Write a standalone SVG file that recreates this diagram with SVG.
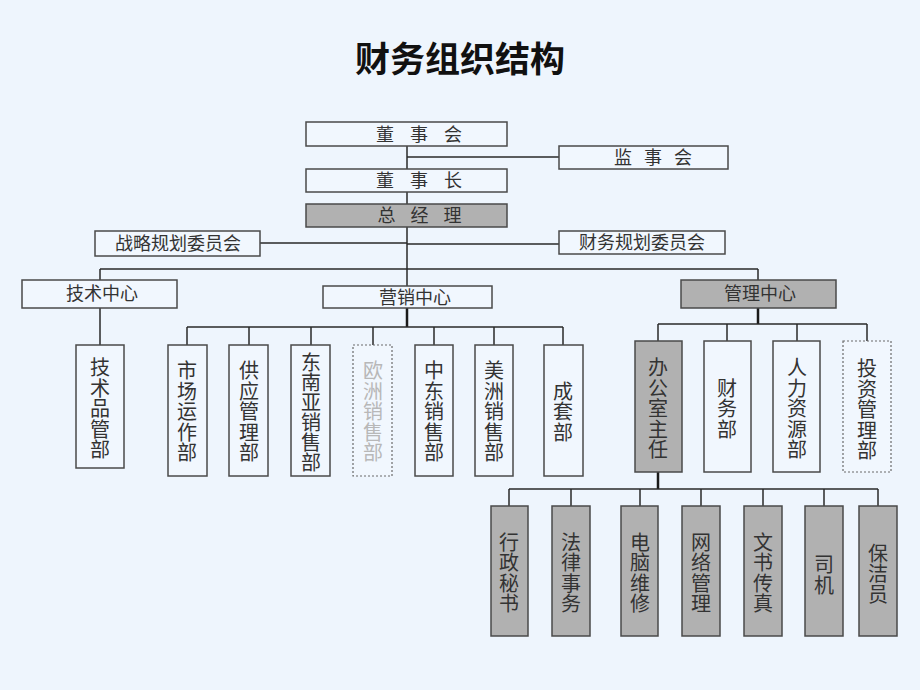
<svg xmlns="http://www.w3.org/2000/svg" width="920" height="690" viewBox="0 0 920 690">
<style>
.bx{fill:#F1F7FE;stroke:#4a4a4a;stroke-width:1.5}
.gy{fill:#B1B1B1;stroke:#4a4a4a;stroke-width:1.5}
.dt{fill:#F1F7FE;stroke:#6a6a6a;stroke-width:1.2;stroke-dasharray:2 2}
.t{font-family:"Noto Sans CJK SC","Noto Sans CJK TC",sans-serif;font-size:18px;fill:#333;text-anchor:middle}
.v{font-family:"Noto Sans CJK SC","Noto Sans CJK TC",sans-serif;font-size:20px;fill:#333;text-anchor:middle;writing-mode:vertical-rl;letter-spacing:0.5px}
.lt{fill:#b8b8b8}
.ln{stroke:#2a2a2a;stroke-width:1.5;fill:none}
.lk{stroke:#1a1a1a;stroke-width:2.5;fill:none}
</style>
<rect width="920" height="690" fill="#EEF5FD"/>
<text x="460" y="72" font-family="'Noto Sans CJK SC',sans-serif" font-size="35" font-weight="bold" text-anchor="middle" fill="#111">财务组织结构</text>

<g id="connectors">
<path class="ln" d="M407 146V169M407 157H559M407 192V204M407 227V286M260 243H407M407 244H559M100 269H758M100 269V280M758 269V280M100 308V345"/>
<path class="lk" d="M407 308V327"/>
<path class="ln" d="M187 327H563M187 327V345M249 327V345M311 327V345M373 327V345M434 327V345M494 327V345M563 327V345"/>
<path class="lk" d="M758 308V324"/>
<path class="ln" d="M658 324H867M658 324V341M727 324V341M797 324V341M867 324V341"/>
<path class="lk" d="M658 472V489"/>
<path class="ln" d="M509 489H878M509 489V506M571 489V506M640 489V506M701 489V506M763 489V506M824 489V506M878 489V506"/>
</g>

<g id="dongshihui"><rect class="bx" x="306" y="122" width="201" height="24"/><text class="t" x="427" y="141" letter-spacing="16">董事会</text></g>
<g id="jianshihui"><rect class="bx" x="559" y="146" width="169" height="23"/><text class="t" x="659" y="164" letter-spacing="12">监事会</text></g>
<g id="dongshizhang"><rect class="bx" x="306" y="169" width="201" height="23"/><text class="t" x="427" y="187" letter-spacing="16">董事长</text></g>
<g id="zongjingli"><rect class="gy" x="306" y="204" width="201" height="23"/><text class="t" x="427" y="222" letter-spacing="15">总经理</text></g>
<g id="zhanlue"><rect class="bx" x="95" y="231" width="165" height="25"/><text class="t" x="178" y="250">战略规划委员会</text></g>
<g id="caiwuguihua"><rect class="bx" x="559" y="231" width="166" height="23"/><text class="t" x="642" y="249">财务规划委员会</text></g>

<g id="jishuzhongxin"><rect class="bx" x="22" y="280" width="155" height="28"/><text class="t" x="102" y="300">技术中心</text></g>
<g id="yingxiaozhongxin"><rect class="bx" x="323" y="286" width="169" height="22"/><text class="t" x="415" y="304">营销中心</text></g>
<g id="guanlizhongxin"><rect class="gy" x="681" y="280" width="155" height="28"/><text class="t" x="760" y="300">管理中心</text></g>

<g id="jishupinguanbu"><rect class="bx" x="76" y="345" width="48" height="123"/><text class="v" x="100" y="409">技术品管部</text></g>

<g id="shichang"><rect class="bx" x="168" y="345" width="39" height="131"/><text class="v" x="187" y="412">市场运作部</text></g>
<g id="gongying"><rect class="bx" x="229" y="345" width="39" height="131"/><text class="v" x="249" y="412">供应管理部</text></g>
<g id="dongnanya"><rect class="bx" x="291" y="345" width="39" height="131"/><text class="v" x="311" y="412" style="letter-spacing:0">东南亚销售部</text></g>
<g id="ouzhou"><rect class="dt" x="353" y="345" width="39" height="131"/><text class="v lt" x="373" y="412">欧洲销售部</text></g>
<g id="zhongdong"><rect class="bx" x="415" y="345" width="38" height="131"/><text class="v" x="434" y="412">中东销售部</text></g>
<g id="meizhou"><rect class="bx" x="475" y="345" width="38" height="131"/><text class="v" x="494" y="412">美洲销售部</text></g>
<g id="chengtao"><rect class="bx" x="544" y="345" width="39" height="131"/><text class="v" x="563" y="412">成套部</text></g>

<g id="bangongshi"><rect class="gy" x="635" y="341" width="47" height="131"/><text class="v" x="658" y="409">办公室主任</text></g>
<g id="caiwubu"><rect class="bx" x="704" y="341" width="47" height="131"/><text class="v" x="727" y="409">财务部</text></g>
<g id="renli"><rect class="bx" x="773" y="341" width="47" height="131"/><text class="v" x="797" y="409">人力资源部</text></g>
<g id="touzi"><rect class="dt" x="843" y="341" width="48" height="131"/><text class="v" x="867" y="410">投资管理部</text></g>

<g id="xingzheng"><rect class="gy" x="491" y="506" width="37" height="130"/><text class="v" x="509" y="573">行政秘书</text></g>
<g id="falv"><rect class="gy" x="552" y="506" width="38" height="130"/><text class="v" x="571" y="573">法律事务</text></g>
<g id="diannao"><rect class="gy" x="621" y="506" width="37" height="130"/><text class="v" x="640" y="573">电脑维修</text></g>
<g id="wangluo"><rect class="gy" x="682" y="506" width="38" height="130"/><text class="v" x="701" y="573">网络管理</text></g>
<g id="wenshu"><rect class="gy" x="744" y="506" width="38" height="130"/><text class="v" x="763" y="573">文书传真</text></g>
<g id="siji"><rect class="gy" x="805" y="506" width="38" height="130"/><text class="v" x="824" y="575">司机</text></g>
<g id="baojie"><rect class="gy" x="859" y="506" width="38" height="130"/><text class="v" x="878" y="574">保洁员</text></g>
</svg>
